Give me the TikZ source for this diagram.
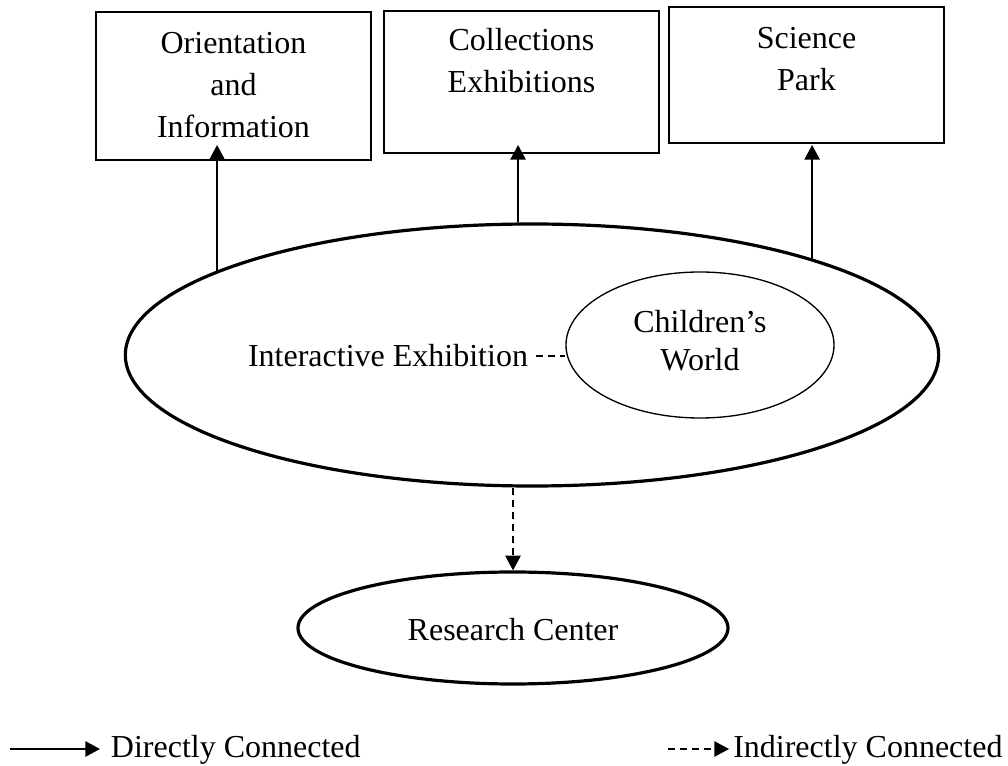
\documentclass[tikz,border=0pt]{standalone}
\usepackage{fontspec}
\setmainfont{Liberation Serif}
\usetikzlibrary{shapes.geometric,arrows.meta}
\tikzstyle{hall}=[rectangle, draw, line width=1.2pt, minimum width=206pt]
\tikzstyle{hallname}=[align=center, inner sep=0pt]
\tikzstyle{zone}=[ellipse, draw, line width=2.4pt]
\tikzstyle{subzone}=[ellipse, draw, line width=1pt]
\tikzstyle{direct}=[line width=1.2pt, -{Triangle[length=11pt,width=11.5pt]}]
\tikzstyle{indirect}=[direct, dash pattern=on 5.25pt off 3.75pt]
\tikzstyle{key}=[anchor=base west, inner ysep=0pt]
\newcommand{\hall}[5]{
	\node[hall, minimum height=#3] (#1) at (#2) {};
	\node[hallname] (#1-name) at (#4) {#5};}

\begin{document}
\begin{tikzpicture}[x=0.75pt, y=-0.75pt, font=\fontsize{24}{31.5}\selectfont]
\useasboundingbox (0,0) rectangle (1008,766);
\hall{orient}{233.5,86}{111pt}{233.5,85}{Orientation\\and\\Information}
\hall{collect}{521.5,82}{106.5pt}{521.5,61}{Collections\\Exhibitions}
\hall{park}{806.5,75}{102pt}{806.5,59.5}{Science\\Park}
\node[zone, minimum width=610pt, minimum height=196.5pt] (exhib) at (532,355) {};
\node[hallname] (exhib-name) at (388,356) {Interactive Exhibition};
\node[subzone, minimum width=201pt, minimum height=109.5pt] (child) at (700,345) {};
\node[hallname, font=\fontsize{24}{28.5}\selectfont] (child-name) at (700,341) {Children's\\World};
\node[zone, minimum width=322.5pt, minimum height=84pt] (research) at (513,628) {};
\node[hallname] (research-name) at (513,630) {Research Center};
\coordinate (tips) at (0,145);
\path[direct] (exhib.165.14) edge (exhib.165.14 |- tips);
\path[direct] (exhib.96.5) edge (exhib.96.5 |- tips);
\path[direct] (exhib.19.83) edge (exhib.19.83 |- tips);
\path[indirect] (research.north |- exhib.south) edge (research.north);
\draw[dash pattern=on 5.25pt off 3.75pt, line width=1.2pt, shorten <=6pt] (exhib-name.east) -- (exhib-name.east -| child.west);
% legend
\node[key, inner xsep=8pt] (direct-key) at (100,758) {Directly Connected};
\node[key, inner xsep=3pt] (indirect-key) at (729,758) {Indirectly Connected};
\coordinate (direct-from) at (10,749);
\coordinate (indirect-from) at (668,749);
\path[direct] (direct-from) edge (direct-from -| direct-key.west);
\path[indirect] (indirect-from) edge (indirect-from -| indirect-key.west);
\end{tikzpicture}
\end{document}
